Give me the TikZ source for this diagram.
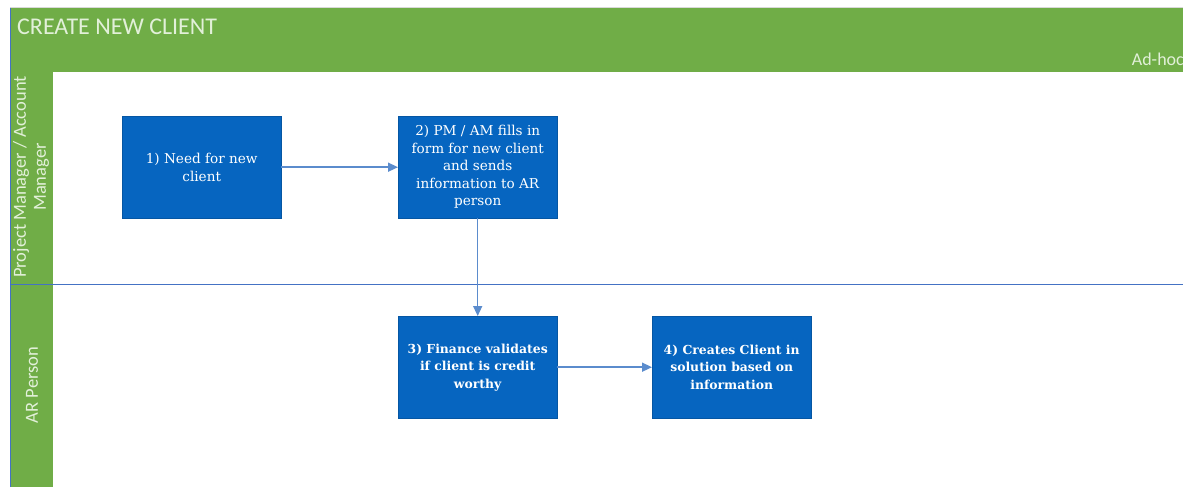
\documentclass[tikz,border=0pt]{standalone}
\usepackage{fontspec}
\setmainfont{Carlito}
\newfontfamily\slab{DejaVu Serif}
\usetikzlibrary{arrows.meta}
\definecolor{lanegreen}{RGB}{112,173,71}
\definecolor{labelgreen}{RGB}{226,240,217}
\definecolor{stepblue}{RGB}{6,101,192}
\definecolor{flowblue}{RGB}{91,140,205}
\definecolor{rule}{RGB}{68,114,196}
\tikzset{
  stepbox/.style={fill=stepblue, draw=stepblue!85!black, line width=0.4pt,
    minimum width=159pt, minimum height=102pt, inner sep=0pt, anchor=north west,
    text=white, align=center, font=\slab\fontsize{13.6}{17.5}\selectfont},
  boldstep/.style={stepbox, font=\slab\bfseries\fontsize{12.4}{17.5}\selectfont},
  flow/.style={draw=flowblue, line width=1.5pt, -{Triangle[length=10pt,width=9pt]}},
  lanetext/.style={text=labelgreen, font=\fontsize{18.5}{20}\selectfont, align=center, rotate=90},
}
\begin{document}
\begin{tikzpicture}[x=1pt,y=-1pt]
  \useasboundingbox (0,0) rectangle (1183,487);
  \fill[white] (0,0) rectangle (1183,487);
  % pool frame
  \draw[black!15, line width=0.6pt] (10,7.5) -- (1183,7.5);
  % header band
  \fill[lanegreen] (10,8) rectangle (1183,72);
  \node[anchor=base west, text=labelgreen, font=\fontsize{24}{28}\selectfont, inner sep=0pt] (title) at (17,35) {CREATE NEW CLIENT};
  \node[anchor=base east, text=labelgreen, font=\fontsize{18}{20}\selectfont, inner sep=0pt] (adhoc) at (1184,66) {Ad-hoc};
  % lane label column
  \fill[lanegreen] (10,72) rectangle (53,487);
  \draw[rule, line width=0.6pt] (10,8) -- (10,487);
  % lane divider
  \draw[rule, line width=1pt] (10,284) -- (1183,284);
  \node[lanetext] (lane1) at (31,177) {Project Manager / Account\\Manager};
  \node[lanetext] (lane2) at (32,385) {AR Person};
  % process steps
  \node[stepbox] (s1) at (122,116) {1) Need for new\\client};
  \node[stepbox] (s2) at (398,116) {2) PM / AM fills in\\form for new client\\and sends\\information to AR\\person};
  \node[boldstep] (s3) at (398,316) {3) Finance validates\\if client is credit\\worthy};
  \node[boldstep] (s4) at (652,316) {4) Creates Client in\\solution based on\\information};
  % connectors
  \draw[flow] (s1.east) -- (s2.west);
  \draw[flow] (s2.south) -- (s3.north);
  \draw[flow] (s3.east) -- (s4.west);
\end{tikzpicture}
\end{document}
